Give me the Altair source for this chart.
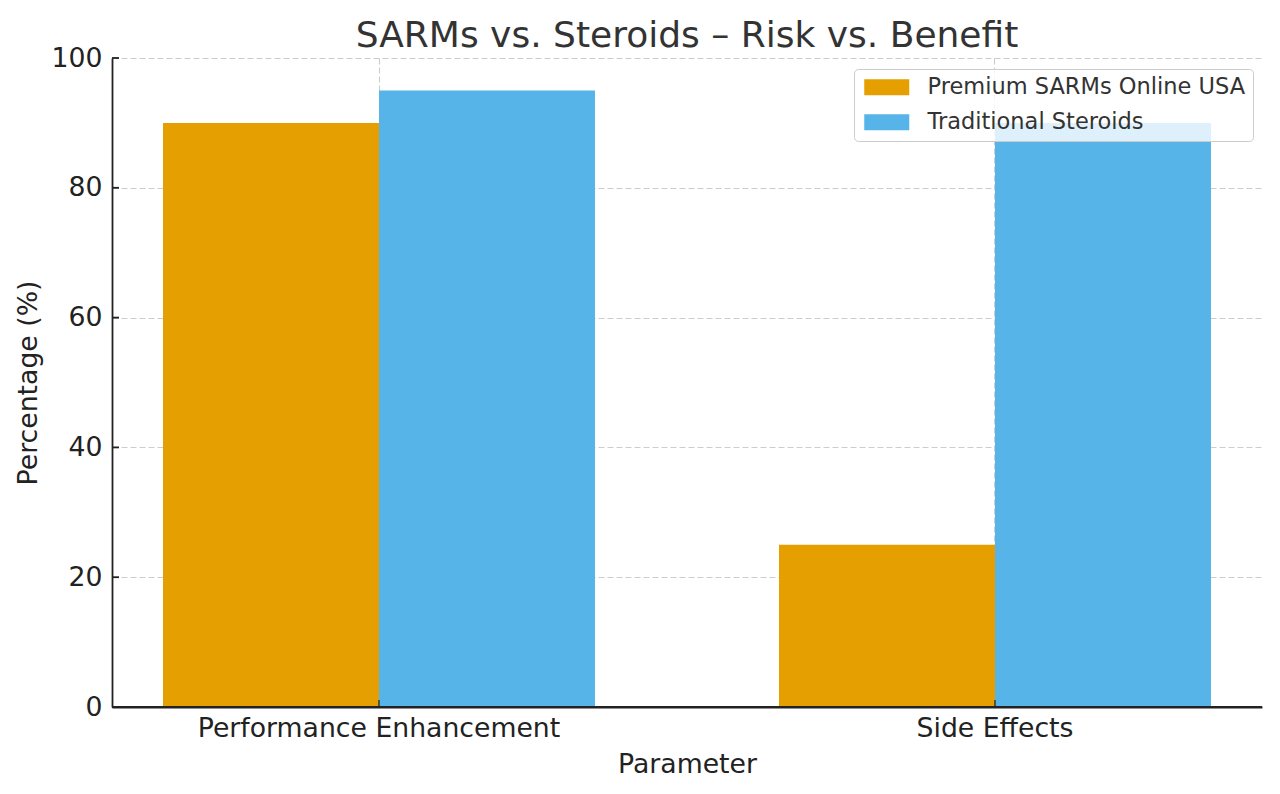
import altair as alt
import pandas as pd

categories = ["Performance Enhancement", "Side Effects"]
series = ["Premium SARMs Online USA", "Traditional Steroids"]
sarms_values = [90, 25]
steroid_values = [95, 90]
colors = ["#E69F00", "#56B4E9"]
y_ticks = [0, 20, 40, 60, 80, 100]

rows = []
for i, c in enumerate(categories):
    rows.append({"Parameter": c, "Series": series[0], "Percentage": sarms_values[i]})
    rows.append({"Parameter": c, "Series": series[1], "Percentage": steroid_values[i]})
df = pd.DataFrame(rows)

FONT = "DejaVu Sans"
W, H = 1150, 649
AXC = "#222222"

x_scale = alt.Scale(domain=categories, paddingInner=0.2987, paddingOuter=0.0828)
y_scale = alt.Scale(domain=[0, 100], nice=False, zero=True)

x_axis = alt.Axis(
    title="Parameter", labelAngle=0, labelFont=FONT, labelFontSize=26.7,
    labelColor=AXC, tickSize=0, labelPadding=8, domainColor=AXC,
    domainWidth=1.8, grid=True, gridDash=[6, 3], gridColor="#cccccc",
    gridWidth=1.1, bandPosition=0.5, titleFont=FONT, titleFontSize=26.7,
    titleFontWeight="normal", titleColor=AXC, titleX=W / 2, titleY=65,
    titleBaseline="alphabetic", titleAlign="center", labelLimit=0,
)
y_axis = alt.Axis(
    values=y_ticks, title="Percentage (%)", labelFont=FONT, labelFontSize=26.7,
    labelColor=AXC, tickSize=0, labelPadding=10, domainColor=AXC,
    domainWidth=1.8, grid=True, gridDash=[6, 3], gridColor="#cccccc",
    gridWidth=1.1, titleFont=FONT, titleFontSize=26.7, titleFontWeight="normal",
    titleColor=AXC, titleX=-84, titleY=H / 2, titleAngle=270,
    titleBaseline="middle", titleAlign="center",
)

x_enc = alt.X("Parameter:N", sort=categories, scale=x_scale, axis=x_axis)
y_enc = alt.Y("Percentage:Q", scale=y_scale, axis=y_axis)

bars = alt.Chart(df).mark_bar().encode(
    x=x_enc,
    xOffset=alt.XOffset("Series:N", sort=series, scale=alt.Scale(paddingInner=0, paddingOuter=0)),
    y=y_enc,
    color=alt.Color(
        "Series:N", scale=alt.Scale(domain=series, range=colors),
        legend=alt.Legend(
            title=None, orient="none", legendX=742, legendY=11, direction="vertical",
            fillColor="rgba(255,255,255,0.8)", strokeColor="#cccccc", cornerRadius=4,
            padding=7, labelFont=FONT, labelFontSize=22.5, labelColor="#333333",
            symbolType="M-1,-1H4.625V1H-1Z", symbolSize=256, symbolStrokeWidth=0,
            symbolOpacity=1, labelOffset=44, rowPadding=12, labelLimit=0,
        ),
    ),
)

baseline = alt.Chart(pd.DataFrame({"Percentage": [0]})).mark_rule(
    color=AXC, strokeWidth=1.8
).encode(y=y_enc)

xticks = alt.Chart(
    pd.DataFrame({"Parameter": categories, "Percentage": [0] * len(categories)})
).mark_tick(orient="vertical", size=7, thickness=1.8, color=AXC, yOffset=-3.5).encode(
    x=x_enc, y=y_enc
)

yticks = alt.Chart(pd.DataFrame({"Percentage": y_ticks})).mark_rule(
    color=AXC, strokeWidth=1.8
).encode(y=y_enc, x=alt.value(0), x2=alt.value(7))

chart = alt.layer(bars, baseline, xticks, yticks).properties(
    width=W,
    height=H,
    padding={"left": 104, "top": 50, "right": 10, "bottom": 70},
    autosize=alt.AutoSizeParams(type="none"),
    title=alt.Title(
        "SARMs vs. Steroids – Risk vs. Benefit", font=FONT, fontSize=36,
        fontWeight="normal", color="#333333", anchor="middle", frame="group",
        offset=-38, baseline="alphabetic",
    ),
).configure(background="white", view=alt.ViewConfig(stroke=None))

chart.save("out.html", embed_options={"renderer": "svg", "actions": False})
